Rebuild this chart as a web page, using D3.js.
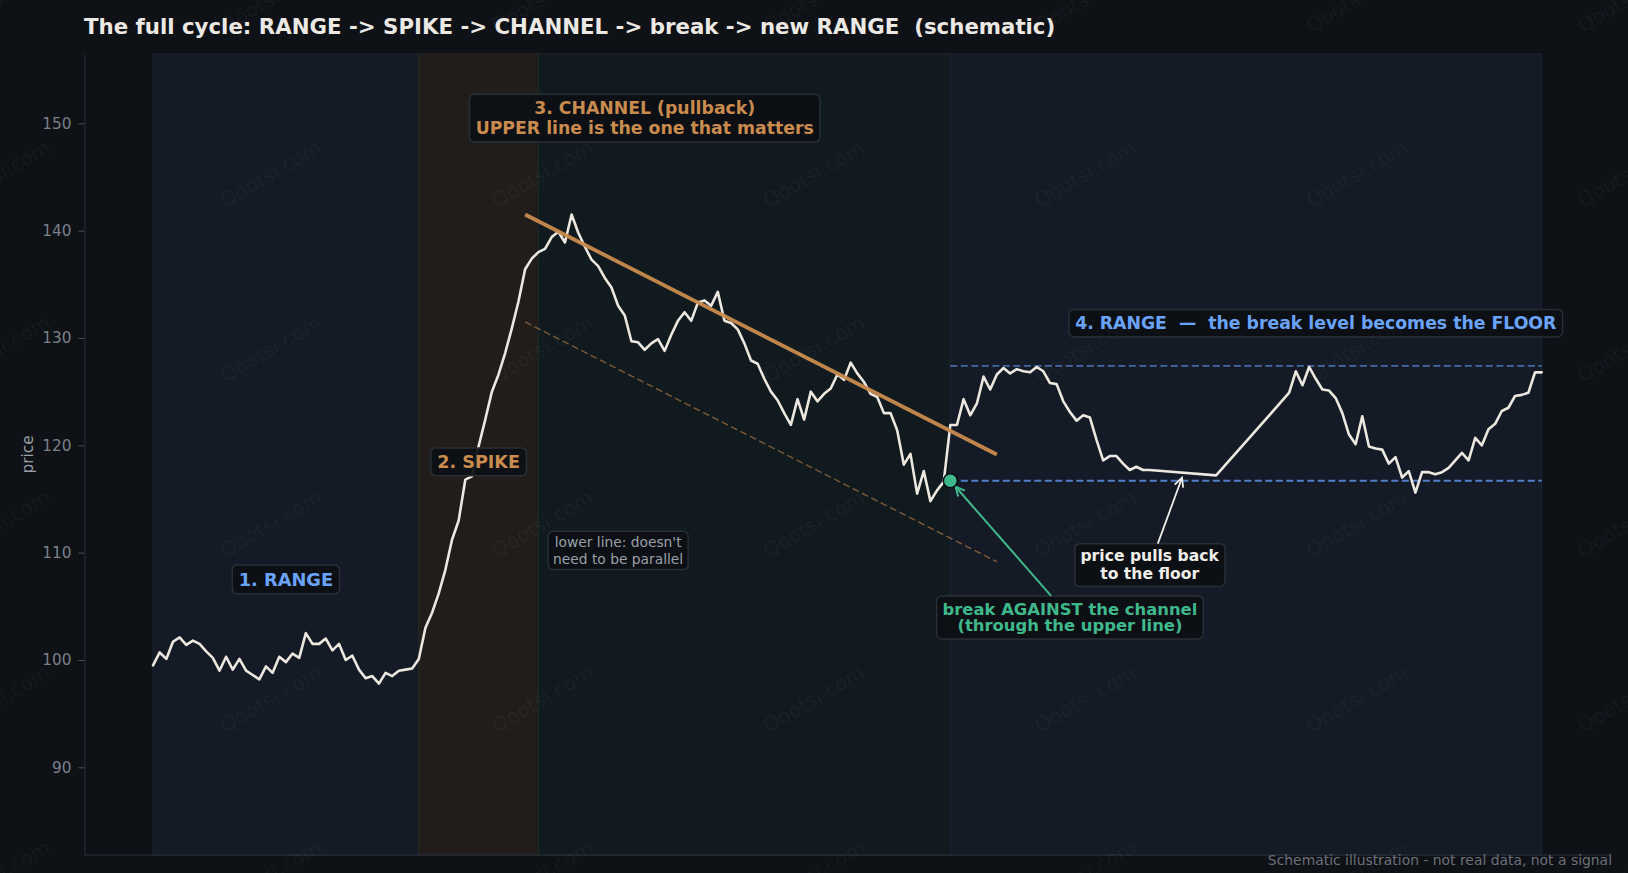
<!DOCTYPE html>
<html><head><meta charset="utf-8">
<script src="https://cdn.jsdelivr.net/npm/d3@7"></script>
<style>html,body{margin:0;padding:0;background:#0e1116;} svg{display:block;} svg text{white-space:pre;}</style>
</head><body><svg id="chart" width="1628" height="873"></svg>
<script>
// ---------------- data ----------------
const titleText = "The full cycle: RANGE -> SPIKE -> CHANNEL -> break -> new RANGE  (schematic)";
const footerText = "Schematic illustration - not real data, not a signal";
const yLabel = "price";
const yTicks = [90, 100, 110, 120, 130, 140, 150];

// price path: time index (straight stretches are single segments in the source)
const priceT = d3.range(0, 151).concat([160], d3.range(171, 210));
const priceV = [
  99.5,100.7,100.1,101.7,102.1,101.4,101.8,101.5,100.8,100.2,
  99.0,100.3,99.1,100.1,99.0,98.6,98.2,99.4,98.8,100.3,
  99.8,100.6,100.2,102.5,101.5,101.5,102.0,100.9,101.5,100.0,
  100.4,99.1,98.3,98.5,97.8,98.8,98.5,99.0,99.1,99.2,
  100.1,103.0,104.4,106.2,108.4,111.2,113.0,116.8,117.1,119.9,
  122.4,125.0,126.6,128.6,130.9,133.4,136.4,137.4,138.0,138.3,
  139.4,139.9,138.9,141.5,139.8,138.5,137.3,136.7,135.6,134.7,
  133.0,132.1,129.7,129.6,128.9,129.5,129.9,128.8,130.3,131.6,
  132.4,131.6,133.3,133.5,133.0,134.3,131.6,131.4,130.8,129.5,
  127.9,127.6,126.2,125.0,124.2,123.0,121.9,124.3,122.4,125.0,
  124.1,124.8,125.3,126.6,126.1,127.7,126.7,125.9,124.8,124.5,
  123.0,123.0,121.4,118.2,119.2,115.5,117.6,114.8,115.8,116.6,
  121.9,121.9,124.3,122.8,123.9,126.4,125.2,126.6,127.2,126.7,
  127.1,126.9,126.8,127.3,126.9,125.8,125.7,124.1,123.1,122.3,
  122.8,122.6,120.5,118.6,119.0,119.0,118.3,117.7,118.0,117.7,
  117.7,
  117.2,
  124.9,126.9,125.6,127.3,126.2,125.2,125.1,124.4,123.0,121.0,
  120.1,122.7,119.9,119.7,119.6,118.3,118.9,117.0,117.6,115.6,
  117.5,117.5,117.3,117.5,117.9,118.6,119.3,118.6,120.7,120.0,
  121.5,122.0,123.2,123.5,124.6,124.7,124.9,126.8,126.8
];

const phaseNames = ["range", "spike", "channel", "range"];
const phaseStart = [0, 40, 58, 120];
const phaseEnd = [40, 58, 120, 209];

const upperLineT = [56, 127];
const upperLineV = [141.5, 119.15];
const lowerLineT = [56, 127];
const lowerLineV = [131.5, 109.15];

const breakT = 120;
const floorLevel = 116.7;
const ceilingLevel = 127.4;
const levelStartT = 120;
const levelEndT = 209;

const annText = [
  "1. RANGE",
  "2. SPIKE",
  "3. CHANNEL (pullback)\nUPPER line is the one that matters",
  "lower line: doesn't\nneed to be parallel",
  "4. RANGE  \u2014  the break level becomes the FLOOR",
  "price pulls back\nto the floor",
  "break AGAINST the channel\n(through the upper line)"
];
const annT = [20, 49, 74, 70, 175, 150, 138];
const annV = [107.5, 118.5, 150.5, 110.2, 131.4, 108.9, 104.0];
const annArrowT = [null, null, null, null, null, 155, 120];
const annArrowV = [null, null, null, null, null, 117.2, 116.7];

// ---------------- styles ----------------
const W = 1628, H = 873;
const FONT = "DejaVu Sans";
const C = {
  bg: "#0e1116",
  range: "#141a26", rangeEdge: "#1d2535",
  spike: "#211d1b", spikeEdge: "#2c2826",
  channel: "#111a1e", channelEdge: "#1e292c",
  price: "#ece8e0",
  orange: "#c98b4e",
  blue: "#6aa4fa",
  green: "#3fb98b",
  dashBlue: "#5584d0",
  grey: "#9aa0a8",
  tick: "#7b8089",
  spine: "#2a303a",
  boxFill: "#0c0f13", boxEdge: "#2a2f37"
};
const annStyle = [
  {color: C.blue, fs: 17.8, w: "bold", lh: 1.17},
  {color: C.orange, fs: 17.6, w: "bold", lh: 1.17},
  {color: C.orange, fs: 17.3, w: "bold", lh: 1.17},
  {color: C.grey, fs: 13.8, w: "normal", lh: 1.17},
  {color: C.blue, fs: 17.3, w: "bold", lh: 1.17},
  {color: "#f0eeea", fs: 15.6, w: "bold", lh: 1.15},
  {color: C.green, fs: 16.4, w: "bold", lh: 1.03}
];

const svg = d3.select("#chart");
svg.append("rect").attr("width", W).attr("height", H).attr("fill", C.bg);

const plotTop = 54, plotBottom = 855, plotLeft = 84.4, plotRight = 1610.3;
const x = d3.scaleLinear().domain([-10.33, 219.33]).range([plotLeft, plotRight]);
const y = d3.scaleLinear().domain([81.83, 156.46]).range([plotBottom, plotTop]);

// phase shading
const fills = {range: [C.range, C.rangeEdge], spike: [C.spike, C.spikeEdge], channel: [C.channel, C.channelEdge]};
const gReg = svg.append("g");
phaseNames.forEach((p, i) => {
  gReg.append("rect")
    .attr("x", x(phaseStart[i])).attr("y", plotTop)
    .attr("width", x(phaseEnd[i]) - x(phaseStart[i]))
    .attr("height", plotBottom - plotTop)
    .attr("fill", fills[p][0]).attr("stroke", fills[p][1]).attr("stroke-width", 1);
});

// axis
const yAxis = d3.axisLeft(y).tickValues(yTicks).tickSize(6).tickSizeOuter(0).tickPadding(7);
const gAx = svg.append("g").attr("transform", `translate(${plotLeft},0)`).call(yAxis);
gAx.select(".domain").attr("stroke", C.spine);
gAx.selectAll(".tick line").attr("stroke", "#4a505a");
gAx.selectAll(".tick text").attr("fill", C.tick).attr("font-family", FONT).attr("font-size", 15.3);
svg.append("line").attr("x1", plotLeft).attr("x2", plotRight).attr("y1", plotBottom).attr("y2", plotBottom)
  .attr("stroke", C.spine);
svg.append("text").attr("transform", `translate(33,${(plotTop + plotBottom) / 2}) rotate(-90)`)
  .attr("text-anchor", "middle").attr("fill", C.grey).attr("font-family", FONT).attr("font-size", 15.3)
  .text(yLabel);

// level lines
svg.append("line").attr("x1", x(levelStartT)).attr("x2", x(levelEndT))
  .attr("y1", y(ceilingLevel)).attr("y2", y(ceilingLevel))
  .attr("stroke", C.dashBlue).attr("stroke-opacity", 0.75).attr("stroke-width", 1.8).attr("stroke-dasharray", "7,3.5");
svg.append("line").attr("x1", x(levelStartT)).attr("x2", x(levelEndT))
  .attr("y1", y(floorLevel)).attr("y2", y(floorLevel))
  .attr("stroke", C.dashBlue).attr("stroke-opacity", 0.95).attr("stroke-width", 1.8).attr("stroke-dasharray", "7,3.5");

// channel lines
const seg = d3.line().x(d => x(d[0])).y(d => y(d[1]));
svg.append("path").attr("d", seg(lowerLineT.map((t, i) => [t, lowerLineV[i]])))
  .attr("fill", "none").attr("stroke", C.orange).attr("stroke-opacity", 0.55)
  .attr("stroke-width", 1.5).attr("stroke-dasharray", "7,3.5");

// price
const priceData = priceT.map((t, i) => [t, priceV[i]]);
svg.append("path").attr("d", seg(priceData))
  .attr("fill", "none").attr("stroke", C.price).attr("stroke-width", 2.6)
  .attr("stroke-linejoin", "round").attr("stroke-linecap", "round");

svg.append("path").attr("d", seg(upperLineT.map((t, i) => [t, upperLineV[i]])))
  .attr("fill", "none").attr("stroke", C.orange).attr("stroke-width", 3.8).attr("stroke-opacity", 0.95);

// annotations
function drawAnn(i) {
  const st = annStyle[i];
  const cx = x(annT[i]), cy = y(annV[i]);
  const lines = annText[i].split("\n");
  const lh = st.fs * st.lh;
  const g = svg.append("g");
  const rect = g.append("rect");
  const txt = g.append("text").attr("text-anchor", "middle").attr("font-family", FONT)
    .attr("font-size", st.fs).attr("font-weight", st.w).attr("fill", st.color);
  lines.forEach((ln, k) => {
    const lc = cy + (k - (lines.length - 1) / 2) * lh;
    txt.append("tspan").attr("x", cx).attr("y", lc + st.fs * 0.36).text(ln);
  });
  const bb = txt.node().getBBox();
  const px = st.fs * 0.36, py = st.fs * 0.22;
  const box = {x: bb.x - px, y: bb.y - py, w: bb.width + 2 * px, h: bb.height + 2 * py};
  rect.attr("x", box.x).attr("y", box.y).attr("width", box.w).attr("height", box.h)
    .attr("rx", 5).attr("fill", C.boxFill).attr("fill-opacity", 0.93)
    .attr("stroke", C.boxEdge).attr("stroke-width", 1.5);
  if (annArrowT[i] !== null) {
    const tx = x(annArrowT[i]), ty = y(annArrowV[i]);
    const bcx = box.x + box.w / 2, bcy = box.y + box.h / 2;
    const dx = tx - bcx, dy = ty - bcy;
    const tExit = Math.min(Math.abs((box.w / 2) / (dx || 1e-9)), Math.abs((box.h / 2) / (dy || 1e-9)));
    const sx = bcx + dx * tExit, sy = bcy + dy * tExit;
    const len = Math.hypot(tx - sx, ty - sy);
    const ux = (tx - sx) / len, uy = (ty - sy) / len;
    const shrink = i === 6 ? 8 : 2.5;
    const ex = tx - ux * shrink, ey = ty - uy * shrink;
    const col = i === 6 ? C.green : "#f0eeea";
    const lw = i === 6 ? 2 : 1.8;
    svg.append("line").attr("x1", sx).attr("y1", sy).attr("x2", ex).attr("y2", ey)
      .attr("stroke", col).attr("stroke-width", lw);
    const hl = 9, hw = 4.5;
    const bx = ex - ux * hl, by = ey - uy * hl;
    svg.append("path")
      .attr("d", `M${bx - uy * hw},${by + ux * hw}L${ex},${ey}L${bx + uy * hw},${by - ux * hw}`)
      .attr("fill", "none").attr("stroke", col).attr("stroke-width", lw);
  }
}
annText.forEach((_, i) => drawAnn(i));

// break dot
svg.append("circle").attr("cx", x(breakT)).attr("cy", y(floorLevel)).attr("r", 7)
  .attr("fill", C.green).attr("stroke", "#0b0e12").attr("stroke-width", 1.5);

// title & footer
svg.append("text").attr("x", 84).attr("y", 34).attr("font-family", FONT).attr("font-weight", "bold")
  .attr("font-size", 21.3).attr("fill", "#ece9e4").text(titleText);
svg.append("text").attr("x", 1612).attr("y", 865).attr("text-anchor", "end").attr("font-family", FONT)
  .attr("font-size", 13.9).attr("fill", "#6b7079").text(footerText);

// watermark
const wm = svg.append("g").attr("pointer-events", "none");
for (let c = 0; c <= 6; c++) {
  for (let r = 0; r <= 5; r++) {
    wm.append("text").attr("transform", `translate(${c * 271.5},${r * 175}) rotate(-30)`)
      .attr("text-anchor", "middle").attr("dominant-baseline", "middle")
      .attr("font-family", FONT).attr("font-size", 20).attr("fill", "#ffffff").attr("fill-opacity", 0.045)
      .text("Qootsi.com");
  }
}
</script></body></html>
